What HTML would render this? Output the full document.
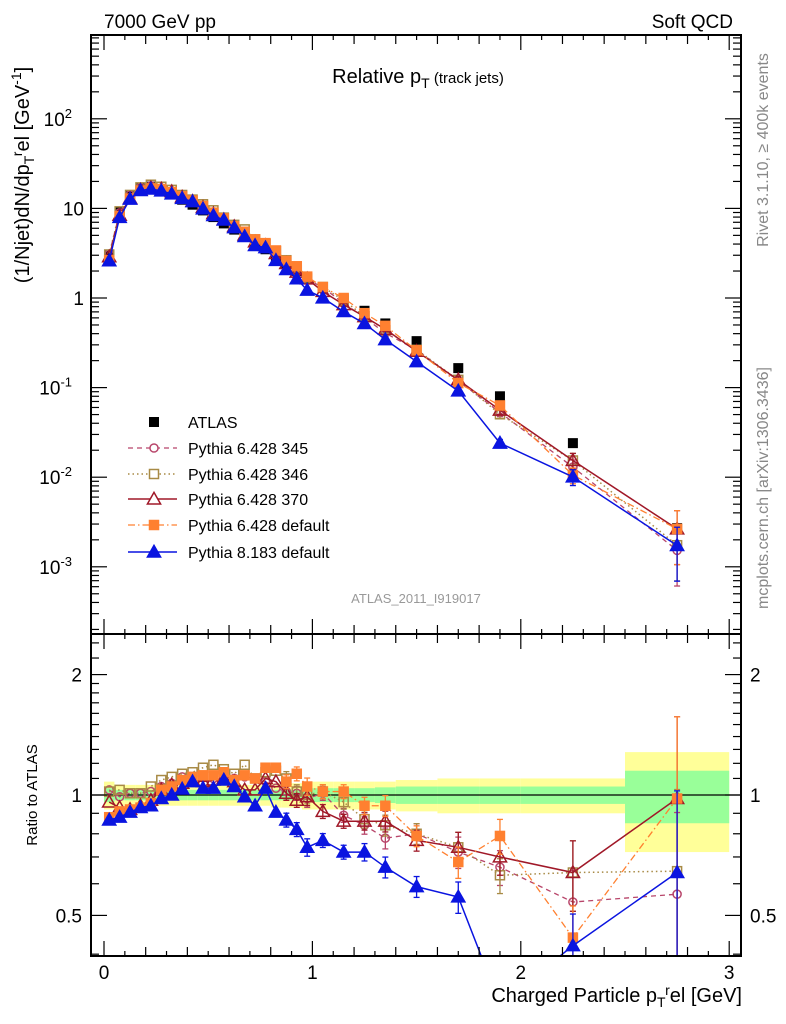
<!DOCTYPE html>
<html><head><meta charset="utf-8"><style>
html,body{margin:0;padding:0;background:#fff;}
svg{display:block;font-family:"Liberation Sans",Arial,sans-serif;}
</style></head><body>
<svg id="chart" width="786" height="1024" viewBox="0 0 786 1024" xmlns="http://www.w3.org/2000/svg">
<text x="104" y="28" font-size="19">7000 GeV pp</text>
<text x="733" y="28" font-size="19" text-anchor="end">Soft QCD</text>
<text x="418" y="83" font-size="20" text-anchor="middle">Relative p<tspan font-size="14" dy="5">T</tspan><tspan font-size="15" dy="-5"> (track jets)</tspan></text>
<text x="416" y="603" font-size="13" fill="#999" text-anchor="middle">ATLAS_2011_I919017</text>
<text transform="translate(768,150) rotate(-90)" font-size="16" fill="#888" text-anchor="middle">Rivet 3.1.10, ≥ 400k events</text>
<text transform="translate(768,488) rotate(-90)" font-size="16" fill="#888" text-anchor="middle">mcplots.cern.ch [arXiv:1306.3436]</text>
<text transform="translate(29,175) rotate(-90)" font-size="20" text-anchor="middle">(1/Njet)dN/dp<tspan font-size="14" dy="5">T</tspan><tspan font-size="14" dy="-12">r</tspan><tspan dy="7">el [GeV</tspan><tspan font-size="14" dy="-8">-1</tspan><tspan dy="8">]</tspan></text>
<text transform="translate(37,795) rotate(-90)" font-size="15" text-anchor="middle">Ratio to ATLAS</text>
<text x="742" y="1002" font-size="20" text-anchor="end">Charged Particle p<tspan font-size="14" dy="5">T</tspan><tspan font-size="14" dy="-12">r</tspan><tspan dy="7">el [GeV]</tspan></text>
<g id="bands"></g><g id="grid"></g><g id="series"></g><g id="axes"></g><g id="legend"></g>
</svg>
<script>
// ---- data ----
var xCenters=[0.025,0.075,0.125,0.175,0.225,0.275,0.325,0.375,0.425,0.475,0.525,0.575,0.625,0.675,0.725,0.775,0.825,0.875,0.925,0.975,1.05,1.15,1.25,1.35,1.5,1.7,1.9,2.25,2.75];
var binEdges=[0,0.05,0.1,0.15,0.2,0.25,0.3,0.35,0.4,0.45,0.5,0.55,0.6,0.65,0.7,0.75,0.8,0.85,0.9,0.95,1.0,1.1,1.2,1.3,1.4,1.6,1.8,2.0,2.5,3.0];
var atlasValues=[3.0,9.0,14,17,17.5,16,14.5,12.5,11,9.5,8,6.8,5.8,4.9,4.1,3.5,2.9,2.4,2.0,1.65,1.3,0.98,0.72,0.52,0.33,0.165,0.08,0.024,0.0027];
var bandGreen=[0.04,0.03,0.03,0.03,0.03,0.03,0.03,0.03,0.03,0.03,0.03,0.03,0.03,0.03,0.03,0.03,0.03,0.03,0.03,0.03,0.04,0.04,0.04,0.045,0.05,0.05,0.05,0.05,0.15];
var bandYellow=[0.08,0.06,0.06,0.06,0.06,0.06,0.06,0.06,0.06,0.06,0.06,0.06,0.06,0.06,0.06,0.06,0.07,0.07,0.07,0.08,0.08,0.08,0.08,0.08,0.09,0.1,0.1,0.1,0.28];
var ratio345=[1.03,0.99,1.01,1.01,1.02,1.05,1.07,1.11,1.09,1.11,1.10,1.11,1.10,1.11,1.10,1.08,1.04,1.02,1.01,0.98,1.01,0.89,0.84,0.78,0.80,0.72,0.66,0.54,0.565];
var ratio346=[1.02,1.03,1.01,1.01,1.05,1.09,1.11,1.13,1.14,1.17,1.19,1.16,1.13,1.19,1.10,1.14,1.15,1.10,1.02,1.00,1.02,0.96,0.87,0.84,0.80,0.74,0.63,0.64,0.645];
var ratio370=[0.96,0.93,0.92,0.94,0.97,1.03,1.06,1.07,1.09,1.08,1.09,1.10,1.08,1.03,1.03,1.10,1.08,1.01,0.97,0.99,0.91,0.86,0.86,0.86,0.77,0.74,0.70,0.64,0.98];
var ratioDef=[0.88,0.91,0.92,0.93,0.955,1.03,1.05,1.09,1.11,1.12,1.12,1.14,1.09,1.12,1.10,1.17,1.17,1.08,1.13,1.05,1.02,1.02,0.94,0.94,0.79,0.68,0.79,0.44,0.98];
var ratioP8=[0.866,0.88,0.906,0.93,0.94,0.98,1.00,1.035,1.08,1.04,1.04,1.09,1.05,0.99,0.94,1.04,0.906,0.866,0.82,0.74,0.77,0.72,0.72,0.66,0.59,0.556,0.3,0.42,0.64];
var relErr=[0.03,0.03,0.03,0.03,0.03,0.03,0.03,0.03,0.03,0.03,0.03,0.03,0.03,0.03,0.03,0.03,0.03,0.04,0.04,0.05,0.04,0.04,0.05,0.06,0.06,0.09,0.1,0.2,0.6];
var xTickLabels=["0","1","2","3"];
var yMainTicks=[-3,-2,-1,0,1,2];
var ratioTicks=[0.5,1,2];
var ratioTickLabels=["0.5","1","2"];

// ---- axes functions ----
var NS="http://www.w3.org/2000/svg";
var FL=91,FR=741,MT=35,MB=634,RT=634,RB=956;
function X(v){return 104+v*208.4;}
function Y(v){return 298-Math.log10(v)*89.6;}
function R(v){return 795-Math.log10(v)*400;}
function mk(tag,attrs,parent){var e=document.createElementNS(NS,tag);for(var k in attrs)e.setAttribute(k,attrs[k]);parent.appendChild(e);return e;}
var gB=document.getElementById('bands'),gS=document.getElementById('series'),gA=document.getElementById('axes'),gL=document.getElementById('legend');

for(var i=0;i<xCenters.length;i++){
  var x0=X(binEdges[i]),x1=X(binEdges[i+1]);
  var y=mk('rect',{x:x0,y:R(1+bandYellow[i]),width:x1-x0,height:R(1-bandYellow[i])-R(1+bandYellow[i]),fill:'#ffff99'},gB);
  
  
  var g=mk('rect',{x:x0,y:R(1+bandGreen[i]),width:x1-x0,height:R(1-bandGreen[i])-R(1+bandGreen[i]),fill:'#99ff99'},gB);
  
  
}
var one=mk('line',{x1:FL,x2:FR,y1:R(1),y2:R(1),stroke:'#000','stroke-width':1.3},gB);



var defs=mk('defs',{},document.getElementById('chart'));
var c1=mk('clipPath',{id:'cm'},defs);mk('rect',{x:FL,y:MT,width:FR-FL,height:MB-MT},c1);
var c2=mk('clipPath',{id:'cr'},defs);mk('rect',{x:FL,y:RT,width:FR-FL,height:RB-RT},c2);

var series=[
 {name:'pythia6-345',ratio:ratio345,color:'#b8456a',dash:'5,4',marker:'circle',fill:'none',label:'Pythia 6.428 345',w:1.3},
 {name:'pythia6-346',ratio:ratio346,color:'#a88a45',dash:'1.5,3',marker:'square',fill:'none',label:'Pythia 6.428 346',w:1.5},
 {name:'pythia6-370',ratio:ratio370,color:'#a01828',dash:'',marker:'triangle',fill:'none',label:'Pythia 6.428 370',w:1.5},
 {name:'pythia6-default',ratio:ratioDef,color:'#ff8030',dash:'7,3,1.5,3',marker:'square',fill:'#ff8030',label:'Pythia 6.428 default',w:1.3},
 {name:'pythia8-default',ratio:ratioP8,color:'#0a14e0',dash:'',marker:'triangle',fill:'#0a14e0',label:'Pythia 8.183 default',w:1.5}
];
function marker(type,x,y,color,fill,parent,s){
  var e;
  if(type==='circle')e=mk('circle',{cx:x,cy:y,r:s*0.45,fill:fill,stroke:color,'stroke-width':1.5},parent);
  else if(type==='square')e=mk('rect',{x:x-s/2,y:y-s/2,width:s,height:s,fill:fill,stroke:color,'stroke-width':1.5},parent);
  else e=mk('polygon',{points:(x)+','+(y-s*0.6)+' '+(x-s*0.6)+','+(y+s*0.45)+' '+(x+s*0.6)+','+(y+s*0.45),fill:fill,stroke:color,'stroke-width':1.5},parent);
  return e;
}
function errbar(x,y1,y2,color,parent){
  mk('line',{x1:x,x2:x,y1:y1,y2:y2,stroke:color,'stroke-width':1.3},parent);
  mk('line',{x1:x-3,x2:x+3,y1:y1,y2:y1,stroke:color,'stroke-width':1.3},parent);
  mk('line',{x1:x-3,x2:x+3,y1:y2,y2:y2,stroke:color,'stroke-width':1.3},parent);
}
series.forEach(function(s){
  var gm=mk('g',{'clip-path':'url(#cm)'},gS);
  
  
  var gr=mk('g',{'clip-path':'url(#cr)'},gS);
  
  
  var pm=[],pr=[];
  for(var i=0;i<xCenters.length;i++){
    var v=atlasValues[i]*s.ratio[i];
    pm.push(X(xCenters[i])+','+Y(v));pr.push(X(xCenters[i])+','+R(s.ratio[i]));
  }
  mk('polyline',{points:pm.join(' '),fill:'none',stroke:s.color,'stroke-width':s.w,'stroke-dasharray':s.dash},gm);
  mk('polyline',{points:pr.join(' '),fill:'none',stroke:s.color,'stroke-width':s.w,'stroke-dasharray':s.dash},gr);
  for(var i=0;i<xCenters.length;i++){
    var v=atlasValues[i]*s.ratio[i],e=relErr[i];
    var x=X(xCenters[i]);
    if(e>0.03){errbar(x,Y(v*(1+e)),Y(Math.max(v*(1-e),1e-6)),s.color,gm);errbar(x,R(s.ratio[i]*(1+e)),R(Math.max(s.ratio[i]*(1-e),0.01)),s.color,gr);}
    var ms=s.marker==='triangle'?11:9;
    var m1=marker(s.marker,x,Y(v),s.color,s.fill,gm,ms);
    
    
    var m2=marker(s.marker,x,R(s.ratio[i]),s.color,s.fill,gr,ms);
    
    
  }
});
var gAt=mk('g',{'clip-path':'url(#cm)'},gS);
gS.insertBefore(gAt,gS.firstChild);


for(var i=0;i<xCenters.length;i++){
  var p=mk('rect',{x:X(xCenters[i])-5,y:Y(atlasValues[i])-5,width:10,height:10,fill:'#000'},gAt);
  
  
}

[[MT,MB],[RT,RB]].forEach(function(f,k){
  var r=mk('rect',{x:FL,y:f[0],width:FR-FL,height:f[1]-f[0],fill:'none',stroke:'#000','stroke-width':2},gA);
  
  
});
for(var t=0;t<=30;t++){
  var v=t/10,x=X(v);if(x>FR)break;
  var L=(t%10===0)?15:(t%2===0?9:5);
  [MT,RT,RB].forEach(function(yy,k){
    if(k===0||k===2){var d=(yy===MT)?1:-1;mk('line',{x1:x,x2:x,y1:yy,y2:yy+d*L,stroke:'#000','stroke-width':1.2},gA);}
    else{mk('line',{x1:x,x2:x,y1:yy-L,y2:yy+L,stroke:'#000','stroke-width':1.2},gA);}
  });
}
xTickLabels.forEach(function(l,i){
  var t=mk('text',{x:X(i),y:979,'font-size':19,'text-anchor':'middle'},gA);t.textContent=l;
  
  
});
for(var d=-4;d<=3;d++){
  for(var m=1;m<10;m++){
    var v=m*Math.pow(10,d),y=Y(v);if(y<MT||y>MB)continue;
    var L=m===1?16:8;
    mk('line',{x1:FL,x2:FL+L,y1:y,y2:y,stroke:'#000','stroke-width':1.2},gA);
    mk('line',{x1:FR,x2:FR-L,y1:y,y2:y,stroke:'#000','stroke-width':1.2},gA);
  }
}
yMainTicks.forEach(function(d){
  var y=Y(Math.pow(10,d));
  var t=mk('text',{x:84,y:y+7,'font-size':19,'text-anchor':'end'},gA);
  
  
  if(d===0)t.textContent='1';else if(d===1)t.textContent='10';
  else{t.textContent='10';var ts=mk('tspan',{'font-size':13,dy:-8},t);ts.textContent=String(d);}
  if(d!==0&&d!==1){t.setAttribute('x',72);}
});
var rt=[0.4,0.5,0.6,0.7,0.8,0.9,1,1.1,1.2,1.3,1.4,1.5,1.6,1.7,1.8,1.9,2,2.2,2.4];
rt.forEach(function(v){
  var y=R(v);if(y<RT||y>RB)return;
  var L=(v===0.5||v===1||v===2)?16:8;
  mk('line',{x1:FL,x2:FL+L,y1:y,y2:y,stroke:'#000','stroke-width':1.2},gA);
  mk('line',{x1:FR,x2:FR-L,y1:y,y2:y,stroke:'#000','stroke-width':1.2},gA);
});
ratioTicks.forEach(function(v,i){
  var t=mk('text',{x:82,y:R(v)+7,'font-size':19,'text-anchor':'end'},gA);t.textContent=ratioTickLabels[i];
  
  
  var t2=mk('text',{x:750,y:R(v)+7,'font-size':19},gA);t2.textContent=ratioTickLabels[i];
  
  
});
var ly=[422,448,474,499,525,552];
var le=mk('g',{},gL);


mk('rect',{x:149,y:ly[0]-5,width:10,height:10,fill:'#000'},le);
var lt=mk('text',{x:188,y:ly[0]+6,'font-size':16},le);lt.textContent='ATLAS';
series.forEach(function(s,i){
  var g=mk('g',{},gL);
  
  
  var y=ly[i+1];
  mk('line',{x1:128,x2:177,y1:y,y2:y,stroke:s.color,'stroke-width':s.w,'stroke-dasharray':s.dash},g);
  var bg=s.fill==='none'?'#fff':s.fill;
  marker(s.marker,154,y,s.color,bg,g,s.marker==='triangle'?11:9);
  var t=mk('text',{x:188,y:y+6,'font-size':16},g);t.textContent=s.label;
});
</script>
</body></html>
